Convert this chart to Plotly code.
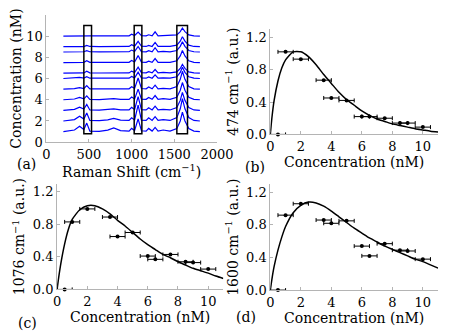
import plotly.graph_objects as go

# ---- panel (a): stacked Raman spectra, offset by concentration ----
RAMAN_SHIFT = [200, 330, 390, 440, 474, 510, 620, 720, 790, 870, 970, 1000, 1035, 1076,
               1115, 1170, 1200, 1240, 1275, 1310, 1370, 1450, 1530, 1570, 1595, 1625,
               1670, 1730, 1800]
SPECTRA_CONC = [1, 2, 3, 4, 5, 6, 6.5, 7.5, 8.5, 9, 10]
SPECTRA = [
    [0, 0.15, 0.5, 0.2, 0.8, 0.05, 0.03, 0.14, 0.35, 0.1, 0.05, 0.3, 0.1, 1.2, 0.08, 0.05, 0.3, 0.05, 0.4, 0.05, 0.15, 0.05, 0.28, 1.0, 1.84, 1.0, 0.28, 0.05, 0],
    [0, 0.13, 0.45, 0.18, 0.75, 0.05, 0.03, 0.1, 0.25, 0.08, 0.05, 0.3, 0.1, 1.5, 0.08, 0.05, 0.3, 0.05, 0.4, 0.05, 0.12, 0.05, 0.32, 1.15, 2.1, 1.15, 0.32, 0.05, 0],
    [0, 0.09, 0.3, 0.12, 0.55, 0.04, 0.02, 0.06, 0.15, 0.05, 0.04, 0.28, 0.08, 1.3, 0.07, 0.04, 0.25, 0.04, 0.4, 0.04, 0.1, 0.04, 0.26, 0.94, 1.7, 0.94, 0.26, 0.04, 0],
    [0, 0.07, 0.22, 0.09, 0.37, 0.04, 0.02, 0.04, 0.1, 0.03, 0.04, 0.25, 0.08, 1.0, 0.06, 0.04, 0.22, 0.04, 0.4, 0.04, 0.1, 0.04, 0.24, 0.9, 1.62, 0.9, 0.24, 0.04, 0],
    [0, 0.05, 0.15, 0.06, 0.34, 0.03, 0.02, 0.03, 0.08, 0.03, 0.03, 0.22, 0.07, 1.05, 0.06, 0.03, 0.2, 0.03, 0.38, 0.03, 0.08, 0.03, 0.25, 0.92, 1.68, 0.92, 0.25, 0.03, 0],
    [0, 0.03, 0.1, 0.04, 0.18, 0.03, 0.02, 0.02, 0.05, 0.02, 0.03, 0.2, 0.06, 0.6, 0.05, 0.03, 0.15, 0.03, 0.35, 0.03, 0.07, 0.03, 0.16, 0.58, 1.06, 0.58, 0.16, 0.03, 0],
    [0, 0.03, 0.08, 0.03, 0.18, 0.03, 0.02, 0.02, 0.05, 0.02, 0.03, 0.2, 0.06, 0.57, 0.05, 0.03, 0.15, 0.03, 0.35, 0.03, 0.07, 0.03, 0.12, 0.45, 0.82, 0.45, 0.12, 0.03, 0],
    [0, 0.02, 0.05, 0.02, 0.17, 0.03, 0.02, 0.02, 0.04, 0.02, 0.03, 0.2, 0.06, 0.66, 0.05, 0.03, 0.14, 0.03, 0.38, 0.03, 0.06, 0.03, 0.17, 0.63, 1.14, 0.63, 0.17, 0.03, 0],
    [0, 0.01, 0.04, 0.02, 0.12, 0.02, 0.01, 0.01, 0.03, 0.01, 0.02, 0.18, 0.05, 0.52, 0.04, 0.02, 0.12, 0.02, 0.4, 0.02, 0.06, 0.02, 0.14, 0.53, 0.96, 0.53, 0.14, 0.02, 0],
    [0, 0.01, 0.03, 0.01, 0.12, 0.02, 0.01, 0.01, 0.03, 0.01, 0.02, 0.18, 0.05, 0.5, 0.04, 0.02, 0.12, 0.02, 0.4, 0.02, 0.05, 0.02, 0.14, 0.52, 0.94, 0.52, 0.14, 0.02, 0],
    [0, 0.01, 0.02, 0.01, 0.08, 0.02, 0.01, 0.01, 0.02, 0.01, 0.02, 0.18, 0.05, 0.38, 0.04, 0.02, 0.12, 0.02, 0.4, 0.02, 0.05, 0.02, 0.11, 0.42, 0.76, 0.42, 0.11, 0.02, 0],
]
BOX_RANGES = [(440, 530), (1030, 1120), (1530, 1655)]
BOX_Y = (0.8, 11)

# ---- panels (b)-(d): peak intensity vs concentration ----
CONC = [0.5, 1, 2, 3.5, 4, 5, 6, 6.5, 7.5, 8.5, 9, 10]
CONC_ERR = [0.5] * 12
PEAK_474 = [0.0, 1.02, 0.93, 0.67, 0.45, 0.42, 0.22, 0.22, 0.20, 0.14, 0.14, 0.09]
PEAK_1076 = [0.0, 0.83, 0.99, 0.89, 0.65, 0.70, 0.41, 0.37, 0.43, 0.34, 0.33, 0.25]
PEAK_1600 = [0.0, 0.92, 1.06, 0.86, 0.82, 0.85, 0.54, 0.42, 0.57, 0.49, 0.48, 0.38]

FIT_X = [0, 0.1, 0.25, 0.5, 0.75, 1, 1.5, 2, 2.5, 3, 3.5, 4, 4.5, 5, 5.5, 6, 6.5, 7,
         7.5, 8, 8.5, 9, 9.5, 10, 10.5, 11]
FIT_474 = [0, 0.2, 0.42, 0.66, 0.82, 0.92, 1.02, 1.02, 0.96, 0.86, 0.74, 0.63, 0.52, 0.43,
           0.36, 0.29, 0.235, 0.19, 0.16, 0.13, 0.11, 0.09, 0.07, 0.055, 0.04, 0.03]
FIT_1076 = [0, 0.14, 0.32, 0.56, 0.74, 0.86, 0.98, 1.03, 1.03, 0.99, 0.93, 0.85, 0.78, 0.70,
            0.62, 0.55, 0.49, 0.43, 0.39, 0.34, 0.30, 0.26, 0.23, 0.20, 0.165, 0.135]
FIT_1600 = [0, 0.13, 0.29, 0.49, 0.65, 0.78, 0.95, 1.04, 1.08, 1.07, 1.03, 0.97, 0.90, 0.83,
            0.76, 0.70, 0.64, 0.59, 0.54, 0.50, 0.46, 0.42, 0.38, 0.35, 0.31, 0.27]

FONT = "DejaVu Serif"
W, H = 449, 335

fig = go.Figure()

for c, row in zip(SPECTRA_CONC, SPECTRA):
    fig.add_trace(go.Scatter(x=RAMAN_SHIFT, y=[c + v for v in row], mode="lines",
                             line=dict(color="#0000ff", width=1.2),
                             xaxis="x", yaxis="y", showlegend=False))

for x0, x1 in BOX_RANGES:
    fig.add_shape(type="rect", xref="x", yref="y", x0=x0, x1=x1, y0=BOX_Y[0], y1=BOX_Y[1],
                  line=dict(color="black", width=1.5))

panels = [(PEAK_474, FIT_474, "2"), (PEAK_1076, FIT_1076, "3"), (PEAK_1600, FIT_1600, "4")]
for peak, fit, n in panels:
    fig.add_trace(go.Scatter(x=FIT_X, y=fit, mode="lines", line=dict(color="black", width=1.5, shape="spline", smoothing=0.6),
                             xaxis="x" + n, yaxis="y" + n, showlegend=False))
    fig.add_trace(go.Scatter(x=CONC, y=peak, mode="markers",
                             marker=dict(color="black", size=4),
                             error_x=dict(type="data", array=CONC_ERR, color="black", thickness=1, width=2),
                             cliponaxis=False,
                             xaxis="x" + n, yaxis="y" + n, showlegend=False))

axis_style = dict(showline=True, linecolor="#b4b4b4", linewidth=1, ticks="inside", ticklen=3,
                  tickcolor="#b4b4b4", showgrid=False, zeroline=False,
                  tickfont=dict(family=FONT, size=13, color="black"))
title_font = dict(family=FONT, size=14, color="black")

conc_ticks = [0, 2, 4, 6, 8, 10]
au_ticks = [0, 0.4, 0.8, 1.2]
au_text = ["0.0", "0.4", "0.8", "1.2"]

fig.update_layout(
    width=W, height=H,
    margin=dict(l=0, r=0, t=0, b=0),
    paper_bgcolor="white", plot_bgcolor="white",
    font=dict(family=FONT, color="black"),
    xaxis=dict(axis_style, domain=[36 / W, 215 / W], range=[0, 2000], anchor="y",
               tickvals=[0, 500, 1000, 1500, 2000],
               title=dict(text="Raman Shift (cm<sup>−1</sup>)", font=title_font, standoff=0)),
    yaxis=dict(axis_style, domain=[1 - 137.5 / H, 1 - 7 / H], range=[0, 12], anchor="x",
               tickvals=conc_ticks,
               title=dict(text="Concentration (nM)", font=title_font, standoff=4)),
    xaxis2=dict(axis_style, domain=[271 / W, 447 / W], range=[0, 11], anchor="y2",
                tickvals=conc_ticks,
                title=dict(text="Concentration (nM)", font=title_font, standoff=2)),
    yaxis2=dict(axis_style, domain=[1 - 129.5 / H, 1 - 21.7 / H], range=[0, 1.3], anchor="x2",
                tickvals=au_ticks, ticktext=au_text,
                title=dict(text="474 cm<sup>−1</sup> (a.u.)", font=title_font, standoff=4)),
    xaxis3=dict(axis_style, domain=[47.3 / W, 221.7 / W], range=[0, 11], anchor="y3",
                tickvals=conc_ticks,
                title=dict(text="Concentration (nM)", font=title_font, standoff=2)),
    yaxis3=dict(axis_style, domain=[1 - 288.3 / H, 1 - 180 / H], range=[0, 1.3], anchor="x3",
                tickvals=au_ticks, ticktext=au_text,
                title=dict(text="1076 cm<sup>−1</sup> (a.u.)", font=title_font, standoff=4)),
    xaxis4=dict(axis_style, domain=[271 / W, 447 / W], range=[0, 11], anchor="y4",
                tickvals=conc_ticks,
                title=dict(text="Concentration (nM)", font=title_font, standoff=2)),
    yaxis4=dict(axis_style, domain=[1 - 289 / H, 1 - 180.5 / H], range=[0, 1.3], anchor="x4",
                tickvals=au_ticks, ticktext=au_text,
                title=dict(text="1600 cm<sup>−1</sup> (a.u.)", font=title_font, standoff=4)),
)

# panel letters
for label, px, py in [("(a)", 3, 160), ("(b)", 242, 163), ("(c)", 4, 323), ("(d)", 233, 317)]:
    fig.add_annotation(text=label, x=px / W, y=1 - py / H, xref="paper", yref="paper",
                       xanchor="left", yanchor="middle", showarrow=False,
                       font=dict(family=FONT, size=14, color="black"))

fig.write_html("out.html")
